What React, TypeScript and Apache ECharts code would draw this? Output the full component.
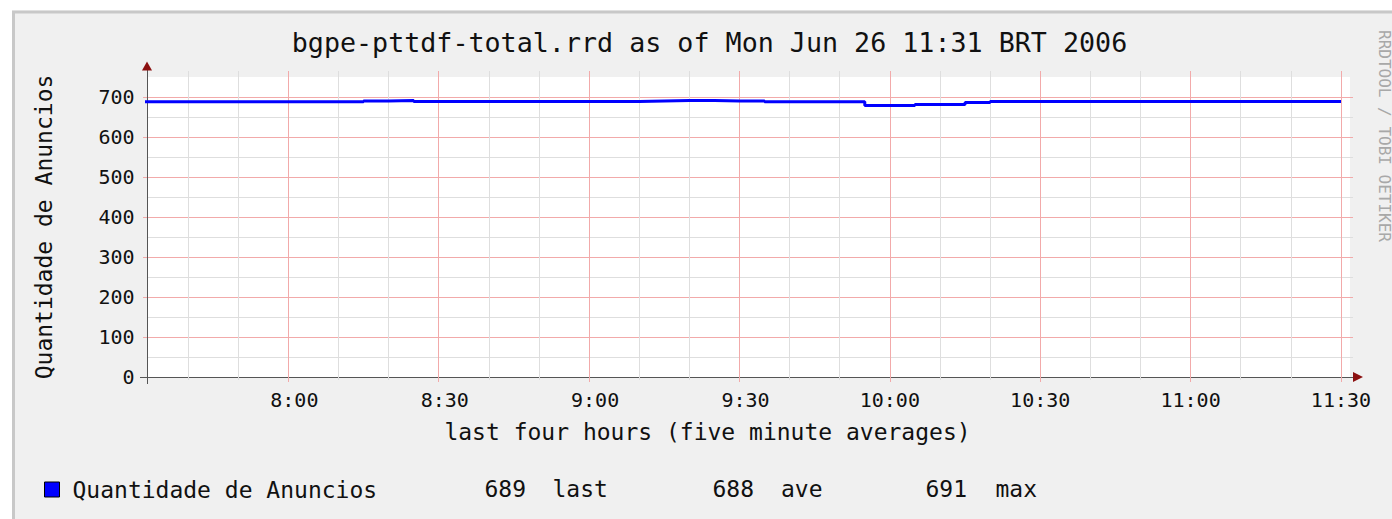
import React, { useEffect, useRef } from 'react';
import * as echarts from 'echarts';

const MONO = '"DejaVu Sans Mono", monospace';

const chartTitle = 'bgpe-pttdf-total.rrd as of Mon Jun 26 11:31 BRT 2006';
const seriesName = 'Quantidade de Anuncios';
const xAxisTitle = 'last four hours (five minute averages)';
const watermark = 'RRDTOOL / TOBI OETIKER';

// minutes since midnight, 5-minute averages (value covers the 5 minutes ending at the timestamp)
const timeMinutes = [
  450, 455, 460, 465, 470, 475, 480, 485, 490, 495,
  500, 505, 510, 515, 520, 525, 530, 535, 540, 545,
  550, 555, 560, 565, 570, 575, 580, 585, 590, 595,
  600, 605, 610, 615, 620, 625, 630, 635, 640, 645,
  650, 655, 660, 665, 670, 675, 680, 685, 690,
];
const anuncios = [
  688, 688, 688, 688, 688, 688, 688, 688, 688, 688,
  690, 691, 689, 689, 689, 689, 689, 689, 689, 689,
  689, 690, 691, 691, 690, 690, 688, 688, 688, 688,
  679, 679, 681, 681, 686, 689, 689, 689, 689, 689,
  689, 689, 689, 689, 689, 689, 689, 689, 689,
];

const xRange = [451.8, 691.8];
const xMajorTicks = [480, 510, 540, 570, 600, 630, 660, 690];
const xMinorTicks = [460, 470, 480, 490, 500, 510, 520, 530, 540, 550, 560, 570, 580, 590, 600, 610, 620, 630, 640, 650, 660, 670, 680, 690];
const yRange = [0, 750];
const yStep = 50;
const yLabelTicks = [0, 100, 200, 300, 400, 500, 600, 700];
const yMinorTicks = [50, 150, 250, 350, 450, 550, 650];
const statLabels = ['last', 'ave', 'max'];

const MINOR = '#dedede';
const MAJOR = '#f2aaaa';
const AXIS = '#555555';
const ARROW = '#8b1010';
const TEXT = '#111111';

function fmtTime(v: number): string {
  const h = Math.floor(v / 60);
  const m = Math.round(v - h * 60);
  const s = `${h}:${String(m).padStart(2, '0')}`;
  return s.padStart(5, '\u00a0');
}

export default function App() {
  const ref = useRef<HTMLDivElement>(null);
  useEffect(() => {
    const chart = echarts.init(ref.current!, null, { renderer: 'svg' });
    const last = anuncios[anuncios.length - 1];
    const ave = anuncios.reduce((a, b) => a + b, 0) / anuncios.length;
    const max = Math.max(...anuncios);
    const stats = [last, ave, max].map((v) => Math.round(v).toString());
    const numRight = [526, 754, 967];
    const labLeft = [552.5, 781, 995.5];

    const xBase = { type: 'value', min: xRange[0], max: xRange[1], gridIndex: 0 };
    const hidden = { axisLabel: { show: false }, splitLine: { show: false } };
    const yBase = { type: 'value', min: yRange[0], max: yRange[1], interval: yStep, gridIndex: 0 };

    const tickAxis = (base: any, position: string, values: number[], length: number, color: string) => ({
      ...base,
      position,
      axisLine: { show: false, onZero: false },
      axisTick: { show: true, customValues: values, length, lineStyle: { color, width: 1 } },
      ...hidden,
    });

    const option: any = {
      animation: false,
      backgroundColor: '#F0F0F0',
      textStyle: { fontFamily: MONO },
      title: {
        text: chartTitle,
        left: 709.5,
        top: 29,
        padding: 0,
        textAlign: 'center',
        textVerticalAlign: 'top',
        textStyle: { fontFamily: MONO, fontSize: 26.7, fontWeight: 'normal', color: TEXT },
      },
      legend: {
        left: 44,
        top: 478,
        padding: 0,
        icon: 'rect',
        itemWidth: 15,
        itemHeight: 15,
        selectedMode: false,
        itemStyle: { color: '#0000ff', borderColor: '#000000', borderWidth: 1 },
        textStyle: { fontFamily: MONO, fontSize: 23, color: TEXT, padding: [0, 0, 0, 8] },
        data: [seriesName],
      },
      grid: {
        left: 147,
        top: 77,
        width: 1203,
        height: 300,
        show: true,
        backgroundColor: '#ffffff',
        borderWidth: 0,
        containLabel: false,
      },
      xAxis: [
        {
          ...xBase,
          position: 'bottom',
          axisLine: { show: true, onZero: false, lineStyle: { color: AXIS, width: 1 } },
          axisTick: { show: true, customValues: xMinorTicks, length: 3, lineStyle: { color: MINOR } },
          axisLabel: {
            show: true,
            customValues: xMajorTicks,
            formatter: fmtTime,
            margin: 13,
            fontFamily: MONO,
            fontSize: 20,
            color: TEXT,
          },
          splitLine: { show: true, lineStyle: { color: [MINOR, MINOR, MAJOR], width: 1 } },
          name: xAxisTitle,
          nameLocation: 'middle',
          nameGap: 43.5,
          nameTextStyle: { fontFamily: MONO, fontSize: 23, color: TEXT, padding: [0, 82, 0, 0] },
        },
        tickAxis(xBase, 'bottom', xMajorTicks, 5, MAJOR),
        tickAxis(xBase, 'top', xMinorTicks, 6, MINOR),
        tickAxis(xBase, 'top', xMajorTicks, 6, MAJOR),
        tickAxis(xBase, 'top', [xRange[0]], 7, AXIS),
        tickAxis(xBase, 'bottom', [xRange[0]], 7, AXIS),
        {
          ...xBase,
          position: 'bottom',
          axisLine: {
            show: true,
            onZero: false,
            symbol: ['none', 'triangle'],
            symbolSize: [10, 10],
            symbolOffset: [0, 8],
            lineStyle: { color: ARROW, width: 0 },
          },
          axisTick: { show: false },
          ...hidden,
        },
      ],
      yAxis: [
        {
          ...yBase,
          position: 'left',
          axisLine: { show: true, onZero: false, lineStyle: { color: AXIS, width: 1 } },
          axisTick: { show: false },
          axisLabel: {
            show: true,
            customValues: yLabelTicks,
            margin: 12.5,
            fontFamily: MONO,
            fontSize: 20,
            color: TEXT,
            padding: [0, 0, 3, 0],
          },
          splitLine: { show: true, showMaxLine: false, lineStyle: { color: [MAJOR, MINOR], width: 1 } },
          name: seriesName,
          nameLocation: 'middle',
          nameRotate: 90,
          nameGap: 91.5,
          nameTextStyle: { fontFamily: MONO, fontSize: 23, color: TEXT },
        },
        tickAxis(yBase, 'left', yLabelTicks, 4, MAJOR),
        tickAxis(yBase, 'left', [0], 7, AXIS),
        tickAxis(yBase, 'right', yMinorTicks, 3, MINOR),
        tickAxis(yBase, 'right', yLabelTicks, 3, MAJOR),
        tickAxis(yBase, 'right', [0], 7, AXIS),
        {
          ...yBase,
          position: 'left',
          axisLine: {
            show: true,
            onZero: false,
            symbol: ['none', 'triangle'],
            symbolSize: [10, 9],
            symbolOffset: [0, 11],
            lineStyle: { color: ARROW, width: 0 },
          },
          axisTick: { show: false },
          ...hidden,
        },
      ],
      series: [
        {
          type: 'line',
          name: seriesName,
          xAxisIndex: 0,
          yAxisIndex: 0,
          data: timeMinutes.map((t, i) => [t, anuncios[i]]),
          step: 'start',
          showSymbol: false,
          symbol: 'none',
          silent: true,
          z: 3,
          color: '#0000ff',
          itemStyle: { color: '#0000ff' },
          lineStyle: { color: '#0000ff', width: 3 },
        },
      ],
      graphic: [
        { type: 'rect', silent: true, shape: { x: 0, y: 0, width: 1392, height: 10.5 }, style: { fill: '#ffffff' } },
        { type: 'rect', silent: true, shape: { x: 0, y: 0, width: 12, height: 519 }, style: { fill: '#ffffff' } },
        {
          type: 'polyline',
          silent: true,
          shape: { points: [[13.5, 519], [13.5, 12], [1392, 12]] },
          style: { stroke: '#c8c8c8', lineWidth: 3, fill: 'none' },
        },
        {
          type: 'text',
          silent: true,
          x: 1384,
          y: 136,
          rotation: -Math.PI / 2,
          style: {
            text: watermark,
            font: `16px ${MONO}`,
            fill: '#a8a8a8',
            align: 'center',
            verticalAlign: 'middle',
            textAlign: 'center',
            textVerticalAlign: 'middle',
          },
        },
        ...stats.map((s, i) => ({
          type: 'text',
          silent: true,
          x: numRight[i],
          y: 489,
          style: {
            text: s,
            font: `23px ${MONO}`,
            fill: TEXT,
            align: 'right',
            verticalAlign: 'middle',
            textAlign: 'right',
            textVerticalAlign: 'middle',
          },
        })),
        ...statLabels.map((s, i) => ({
          type: 'text',
          silent: true,
          x: labLeft[i],
          y: 489,
          style: {
            text: s,
            font: `23px ${MONO}`,
            fill: TEXT,
            align: 'left',
            verticalAlign: 'middle',
            textAlign: 'left',
            textVerticalAlign: 'middle',
          },
        })),
      ],
    };
    chart.setOption(option);
    return () => chart.dispose();
  }, []);
  return <div ref={ref} style={{ position: 'absolute', left: 0, top: 0, width: 1392, height: 519 }} />;
}
